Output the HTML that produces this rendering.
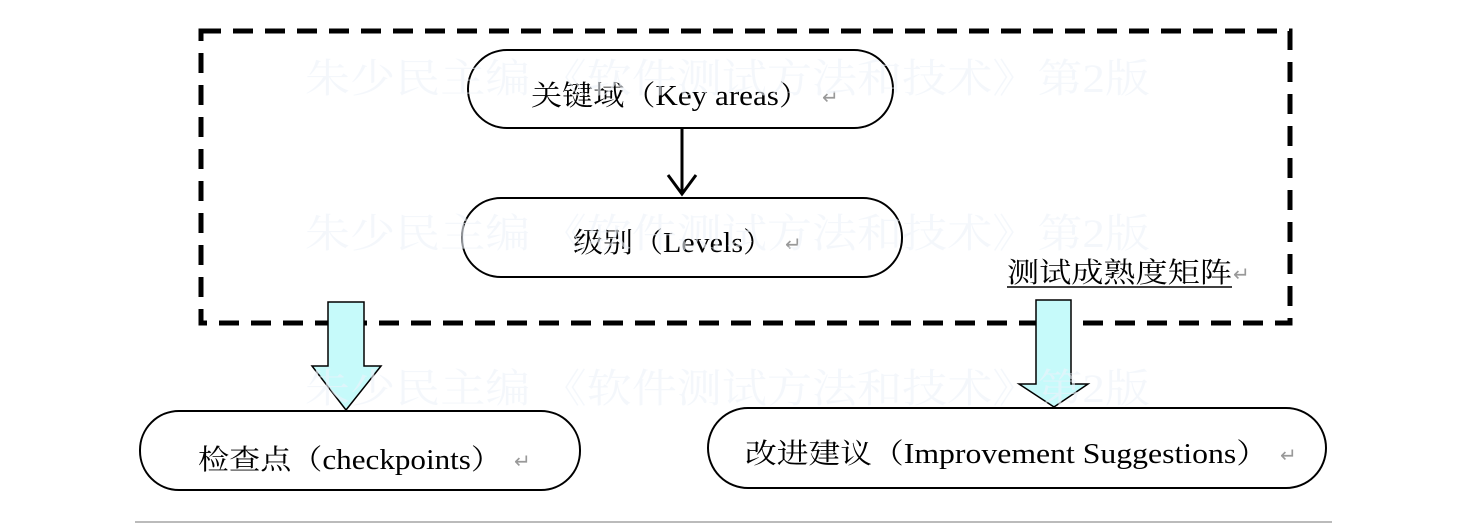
<!DOCTYPE html>
<html><head><meta charset="utf-8"><style>
html,body{margin:0;padding:0;background:#fff;width:1478px;height:526px;overflow:hidden}
svg{display:block}
.t{font-family:"Liberation Serif","Noto Serif CJK SC",serif;font-size:28px;fill:#000}
.wm{font-family:"Liberation Serif","Noto Serif CJK SC",serif;font-size:40px;fill:#eef3fa;opacity:0.6}
.rt{font-family:"Liberation Serif","DejaVu Sans",serif;fill:#999;font-size:20px}
</style></head><body>
<svg width="1478" height="526" viewBox="0 0 1478 526" xmlns="http://www.w3.org/2000/svg">
<rect x="201" y="31" width="1089" height="292" fill="none" stroke="#000" stroke-width="5" stroke-dasharray="20,12"/>
<rect x="468" y="50" width="425" height="78" rx="39" fill="#fff" stroke="#000" stroke-width="2"/>
<text class="t" x="531" y="105" textLength="279" lengthAdjust="spacingAndGlyphs">关键域（Key areas）</text>
<text class="rt" x="822" y="104">↵</text>
<line x1="682" y1="128" x2="682" y2="193" stroke="#000" stroke-width="3"/>
<polyline points="668,175 682,194 696,175" fill="none" stroke="#000" stroke-width="3"/>
<rect x="462" y="198" width="440" height="79" rx="39" fill="#fff" stroke="#000" stroke-width="2"/>
<text class="t" x="573" y="252" textLength="200" lengthAdjust="spacingAndGlyphs">级别（Levels）</text>
<text class="rt" x="785" y="251">↵</text>
<text class="t" x="1007" y="282" font-size="26" textLength="225" lengthAdjust="spacingAndGlyphs">测试成熟度矩阵</text>
<text class="rt" x="1233" y="281">↵</text>
<line x1="1007" y1="287" x2="1232" y2="287" stroke="#000" stroke-width="1.5"/>
<polygon points="328,302 364,302 364,366 381,366 346,410 312,366 328,366" fill="#c6fafa" stroke="#000" stroke-width="1.5"/>
<polygon points="1036,300 1071,300 1071,384 1088,384 1054,407 1019,384 1036,384" fill="#c6fafa" stroke="#000" stroke-width="1.5"/>
<rect x="140" y="411" width="440" height="79" rx="39" fill="#fff" stroke="#000" stroke-width="2"/>
<text class="t" x="198" y="469" textLength="304" lengthAdjust="spacingAndGlyphs">检查点（checkpoints）</text>
<text class="rt" x="514" y="468">↵</text>
<rect x="708" y="408" width="618" height="80" rx="40" fill="#fff" stroke="#000" stroke-width="2"/>
<text class="t" x="745" y="463" textLength="523" lengthAdjust="spacingAndGlyphs">改进建议（Improvement Suggestions）</text>
<text class="rt" x="1280" y="462">↵</text>
<text class="wm" x="305" y="92" textLength="845" lengthAdjust="spacingAndGlyphs">朱少民主编 《软件测试方法和技术》第2版</text>
<text class="wm" x="305" y="247" textLength="845" lengthAdjust="spacingAndGlyphs">朱少民主编 《软件测试方法和技术》第2版</text>
<text class="wm" x="305" y="402" textLength="845" lengthAdjust="spacingAndGlyphs">朱少民主编 《软件测试方法和技术》第2版</text>
<line x1="135" y1="522" x2="1332" y2="522" stroke="#bbb" stroke-width="2"/>
</svg>
</body></html>
